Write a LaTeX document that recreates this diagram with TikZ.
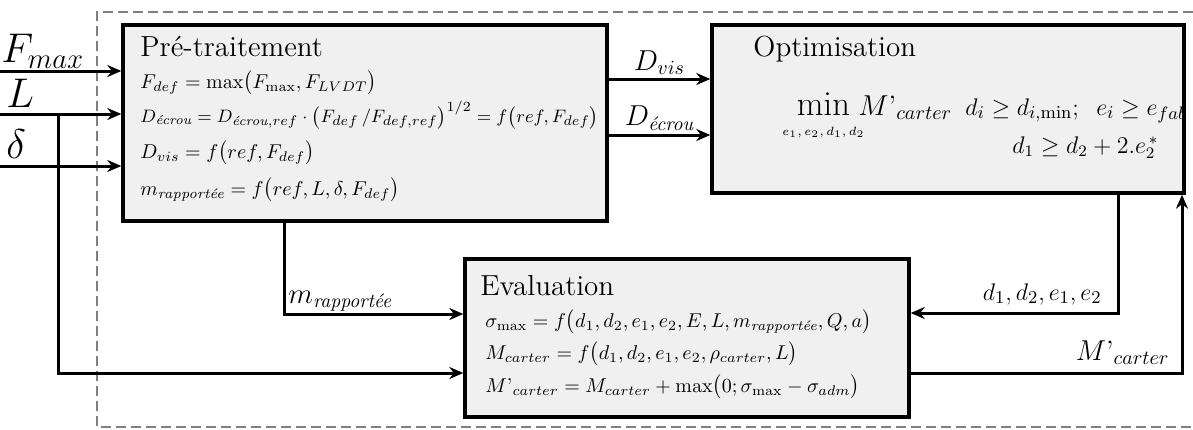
\documentclass[tikz,border=0pt]{standalone}
\usepackage{amsmath}
\usepackage{amssymb}
\usetikzlibrary{arrows.meta,calc,positioning,fit}
\tikzset{
  signal/.style={->, line width=1.5pt, draw=black, >={Stealth[length=7pt,width=6pt]}},
  block/.style={draw=black, line width=1.7pt, rectangle, fill=black!6, inner sep=0pt},
  frame/.style={draw=black!50, line width=1.4pt, dash pattern=on 5pt off 2.5pt},
  title/.style={anchor=base west, inner sep=0pt, font=\fontsize{14.5}{16}\selectfont},
  eq/.style={anchor=base west, inner sep=0pt, font=\fontsize{10}{12}\selectfont},
  sig/.style={font=\fontsize{14}{16}\selectfont, inner sep=1.5pt},
  inp/.style={anchor=base west, inner sep=0pt, font=\fontsize{20}{22}\selectfont}
}
\newcommand{\Mp}{M\text{'}}
\newcommand{\ecrou}{\textit{écrou}}
\newcommand{\rapp}{\textit{rapportée}}

\begin{document}
\begin{tikzpicture}[x=0.5pt,y=-0.5pt]
  \useasboundingbox (0,0) rectangle (1193,429);
  % dashed frame
  \draw[frame] (1193,12) -| (97,427) -- (1193,427);

  % blocks
  \node[block, fit={(123,25) (607,221)}] (pre) {};
  \node[block, fit={(712,25) (1184,193)}] (opt) {};
  \node[block, fit={(465,259) (909,417)}] (eval) {};

  % pre-traitement
  \node[title] (pret) at (140,56) {Pré-traitement};
  \node[eq] (pre1) at (140,88) {$F_{def}=\max\bigl(F_{\max},F_{LVDT}\bigr)$};
  \node[eq, font=\fontsize{9.4}{11}\selectfont] (pre2) at (140,122) {$D_{\ecrou}=D_{\ecrou,ref}\cdot\bigl(F_{def}\,/F_{def,ref}\bigr)^{1/2}=f\bigl(ref,F_{def}\bigr)$};
  \node[eq] (pre3) at (140,158) {$D_{vis}=f\bigl(ref,F_{def}\bigr)$};
  \node[eq] (pre4) at (140,195) {$m_{\rapp}=f\bigl(ref,L,\delta,F_{def}\bigr)$};

  % optimisation
  \node[title] (optt) at (753,56) {Optimisation};
  \node[eq, font=\fontsize{17}{19}\selectfont] (obj) at (782,115) {$\min\limits_{\mbox{\fontsize{6}{6}\selectfont$e_1,e_2,d_1,d_2$}}$};
  \node[eq, font=\fontsize{14}{16}\selectfont] (crit) at (858,115) {$\Mp_{carter}$};
  \begin{scope}
    \clip (opt.south west) rectangle (opt.north east);
    \node[eq, font=\fontsize{13}{15}\selectfont] (cst1) at (965,115) {$d_i\geq d_{i,\min};\;\; e_i\geq e_{fab}$};
  \end{scope}
  \node[eq, font=\fontsize{12}{14}\selectfont] (cst2) at (1012,153) {$d_1\geq d_2+2.e_2^{\,*}$};

  % evaluation
  \node[title] (evalt) at (480,295) {Evaluation};
  \node[eq] (ev1) at (485,327) {$\sigma_{\max}=f\bigl(d_1,d_2,e_1,e_2,E,L,m_{\rapp},Q,a\bigr)$};
  \node[eq] (ev2) at (485,359) {$M_{carter}=f\bigl(d_1,d_2,e_1,e_2,\rho_{carter},L\bigr)$};
  \node[eq] (ev3) at (485,392) {$\Mp_{carter}=M_{carter}+\max\bigl(0;\sigma_{\max}-\sigma_{adm}\bigr)$};

  % inputs
  \coordinate (fin) at (0,71);
  \coordinate (lin) at (0,114);
  \coordinate (din) at (0,166);
  \coordinate (lj) at (58,114);
  \coordinate (lev) at (0,373);
  \node[inp] (flab) at (1,62) {$F_{max}$};
  \node[inp] (llab) at (6,107) {$L$};
  \node[inp] (dlab) at (6,158) {$\delta$};
  \draw[signal] (fin) -- (fin -| pre.west);
  \draw[signal] (lin) -- (lin -| pre.west);
  \draw[signal] (din) -- (din -| pre.west);
  \draw[signal] (lj) |- (lev -| eval.west);

  % m rapportee
  \coordinate (mr) at (284,314);
  \draw[signal] (pre.south -| mr) |- (mr -| eval.west);
  \node[sig, anchor=base west, inner sep=0pt] (mlab) at (288,303) {$m_{\rapp}$};

  % diametres
  \coordinate (dv) at (0,79);
  \coordinate (de) at (0,135);
  \draw[signal] (dv -| pre.east) -- node[sig, above] {$D_{vis}$} (dv -| opt.west);
  \draw[signal] (de -| pre.east) -- node[sig, above] {$D_{\ecrou}$} (de -| opt.west);

  % retour
  \coordinate (fb) at (1118,313);
  \coordinate (mo) at (1182,373);
  \draw[signal] (opt.south -| fb) |- (fb -| eval.east);
  \draw[signal] (mo -| eval.east) -| (opt.south -| mo);
  \node[sig, anchor=base east, inner sep=0pt, font=\fontsize{12.5}{14}\selectfont] (fblab) at (1102,300) {$d_1,d_2,e_1,e_2$};
  \node[sig, anchor=base east, inner sep=0pt] (molab) at (1170,360) {$\Mp_{carter}$};
\end{tikzpicture}
\end{document}
